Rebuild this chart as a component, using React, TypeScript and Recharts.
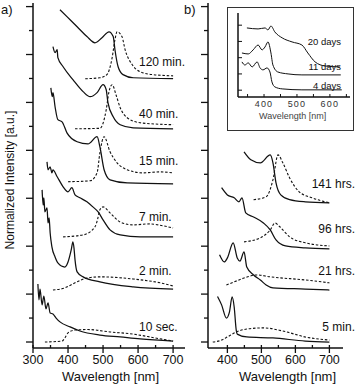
import React from "react";
import { LineChart, Line, XAxis, YAxis } from "recharts";

type P = [number, number];

// panel a) wavelength (nm) vs stacked normalized intensity, solid = absorption, dashed = emission
const A_10SEC_ABS: P[] = [[314, 2.42], [317, 1.76], [320, 2.21], [326, 1.55], [331, 1.92], [337, 1.38], [343, 1.63], [349, 1.21], [357, 1.17], [366, 1.0], [377, 0.84], [406, 0.63], [434, 0.46], [491, 0.29], [549, 0.21], [606, 0.13], [700, 0.04]];
const A_10SEC_EM: P[] = [[334, 0], [383, 0.04], [391, 0.17], [400, 0.38], [420, 0.5], [457, 0.52], [520, 0.42], [586, 0.33], [649, 0.17], [700, 0.04]];
const A_2MIN_ABS: P[] = [[326, 6.35], [329, 5.72], [331, 6.02], [334, 5.43], [340, 5.6], [343, 4.97], [346, 5.18], [349, 4.55], [354, 3.97], [363, 3.55], [371, 3.3], [391, 3.13], [400, 3.34], [409, 3.84], [414, 4.18], [417, 3.93], [420, 3.43], [426, 2.93], [443, 2.72], [491, 2.51], [586, 2.3], [700, 2.21]];
const A_2MIN_EM: P[] = [[357, 2.17], [391, 2.26], [420, 2.47], [454, 2.67], [491, 2.72], [586, 2.63], [663, 2.47], [700, 2.34]];
const A_7MIN_ABS: P[] = [[340, 7.52], [343, 7.19], [349, 7.31], [354, 7.06], [357, 7.19], [369, 6.9], [386, 6.48], [400, 6.27], [411, 6.44], [420, 6.14], [434, 6.02], [454, 5.85], [471, 5.64], [486, 5.43], [500, 5.1], [520, 4.68], [549, 4.47], [606, 4.39], [700, 4.39]];
const A_7MIN_EM: P[] = [[386, 4.39], [443, 4.47], [477, 4.81], [484, 5.1], [491, 5.52], [500, 5.64], [520, 5.39], [549, 5.01], [586, 4.89], [634, 4.93], [671, 4.85], [700, 4.76]];
const A_15MIN_ABS: P[] = [[351, 10.61], [355, 10.24], [357, 10.41], [363, 9.82], [371, 9.28], [383, 9.19], [397, 8.73], [426, 8.36], [457, 8.27], [483, 8.57], [491, 8.15], [503, 7.19], [520, 6.77], [569, 6.64], [700, 6.6]];
const A_15MIN_EM: P[] = [[400, 6.69], [463, 6.73], [483, 7.06], [491, 7.9], [503, 8.57], [520, 7.94], [540, 7.48], [569, 7.19], [614, 7.06], [663, 7.1], [700, 7.06]];
const A_40MIN_ABS: P[] = [[357, 12.33], [363, 12.08], [369, 12.2], [371, 11.87], [386, 11.49], [414, 10.95], [443, 10.45], [463, 10.24], [483, 10.41], [500, 10.74], [509, 10.53], [514, 9.99], [529, 9.4], [549, 9.07], [586, 8.94], [700, 8.9]];
const A_40MIN_EM: P[] = [[420, 8.9], [491, 8.92], [509, 9.69], [517, 10.45], [526, 10.74], [537, 10.32], [549, 9.78], [569, 9.36], [606, 9.15], [700, 9.07]];
const A_120MIN_ABS: P[] = [[377, 13.87], [397, 13.58], [426, 13.16], [454, 12.75], [477, 12.49], [497, 12.7], [517, 12.95], [529, 12.75], [534, 12.2], [543, 11.49], [557, 11.16], [586, 11.03], [700, 10.99]];
const A_120MIN_EM: P[] = [[449, 10.99], [491, 11.03], [511, 11.16], [526, 11.87], [534, 12.62], [540, 12.95], [554, 12.75], [563, 12.2], [583, 11.58], [606, 11.28], [643, 11.16], [700, 11.11]];

// panel b)
const B_5MIN_ABS: P[] = [[371, 1.9], [383, 1.55], [397, 1.0], [406, 1.25], [414, 1.88], [420, 1.46], [426, 0.5], [429, 0.33], [457, 0.21], [534, 0.17], [629, 0.04], [700, 0]];
const B_5MIN_EM: P[] = [[357, 0], [383, 0.08], [400, 0.21], [426, 0.42], [457, 0.54], [506, 0.59], [563, 0.46], [629, 0.21], [700, 0.08]];
const B_21H_ABS: P[] = [[377, 3.64], [391, 3.34], [400, 3.51], [417, 4.14], [429, 3.51], [437, 3.38], [449, 3.76], [457, 3.13], [477, 2.8], [497, 2.59], [514, 2.38], [534, 2.26], [629, 2.21], [700, 2.17]];
const B_21H_EM: P[] = [[397, 2.38], [420, 2.51], [449, 2.67], [486, 2.8], [526, 2.72], [629, 2.59], [700, 2.47]];
const B_96H_ABS: P[] = [[383, 6.44], [400, 6.14], [420, 6.02], [434, 5.85], [443, 6.02], [454, 5.39], [477, 5.22], [506, 4.97], [526, 4.68], [543, 4.26], [571, 4.01], [629, 3.93], [700, 3.89]];
const B_96H_EM: P[] = [[449, 4.18], [497, 4.35], [526, 4.68], [540, 4.97], [554, 4.81], [583, 4.39], [629, 4.14], [700, 4.01]];
const B_141H_ABS: P[] = [[449, 7.94], [469, 7.61], [497, 7.48], [526, 7.81], [534, 7.48], [543, 6.64], [557, 6.14], [583, 5.94], [629, 5.85], [700, 5.81]];
const B_141H_EM: P[] = [[477, 5.94], [514, 6.06], [534, 6.77], [549, 7.81], [563, 7.48], [583, 6.85], [611, 6.27], [649, 6.02], [700, 5.81]];

// inset
const I_20D: P[] = [[348, 4.83], [382, 4.77], [403, 4.83], [412, 4.71], [421, 4.95], [433, 4.58], [455, 4.22], [485, 3.97], [515, 3.78], [533, 3.29], [555, 2.74], [585, 2.49], [630, 2.43]];
const I_11D: P[] = [[333, 3.29], [352, 3.23], [367, 3.48], [382, 3.78], [394, 3.48], [403, 3.66], [412, 3.97], [421, 3.29], [427, 2.55], [442, 2.12], [473, 2.0], [515, 1.94], [633, 1.94]];
const I_4D: P[] = [[333, 2.74], [342, 2.55], [352, 2.68], [364, 2.43], [379, 2.74], [388, 2.37], [397, 2.25], [409, 2.37], [418, 2.12], [424, 1.51], [433, 1.2], [455, 1.08], [515, 1.02], [636, 1.02]];

const A_TICKS_X = [300, 350, 400, 450, 500, 550, 600, 650, 700];
const B_TICKS_X = [400, 450, 500, 550, 600, 650, 700];
const INSET_TICKS_X = [350, 400, 450, 500, 550, 600, 650];
const TICKS_Y = [0, 1, 2, 3, 4, 5, 6, 7, 8, 9, 10, 11, 12, 13, 14];
const INSET_TICKS_Y = [1, 2, 3, 4, 5];

const A_LABELS = [
  { text: "120 min.", y: 63 },
  { text: "40 min.", y: 115 },
  { text: "15 min.", y: 162 },
  { text: "7 min.", y: 218 },
  { text: "2 min.", y: 272 },
  { text: "10 sec.", y: 328 },
];
const B_LABELS = [
  { text: "141 hrs.", y: 185 },
  { text: "96 hrs.", y: 230 },
  { text: "21 hrs.", y: 272 },
  { text: "5 min.", y: 328 },
];
const INSET_LABELS = [
  { text: "20 days", y: 42 },
  { text: "11 days", y: 67 },
  { text: "4 days", y: 86 },
];

const FONT = '"Liberation Sans", Arial, Helvetica, sans-serif';
const INK = "#111";

const toPts = (arr: P[]) => arr.map(([x, y]) => ({ x, y }));

const mainXTick = ({ x, y, payload }: any) => {
  const major = payload.value % 100 === 0;
  return (
    <g>
      <line x1={x} x2={x} y1={y - 3} y2={major ? y + 5 : y} stroke={INK} strokeWidth={1.3} />
      {major && (
        <text x={x} y={y + 16} textAnchor="middle" fontSize={12.5} fill={INK} fontFamily={FONT}>
          {payload.value}
        </text>
      )}
    </g>
  );
};

const mainYTick = ({ x, y, payload }: any) => {
  const len = payload.value % 2 === 0 ? 7 : 4;
  return <line x1={x - len} x2={x} y1={y} y2={y} stroke={INK} strokeWidth={1.3} />;
};

const insetXTick = ({ x, y, payload }: any) => {
  const major = payload.value % 100 === 0;
  return (
    <g>
      <line x1={x} x2={x} y1={y - 3} y2={y} stroke={INK} strokeWidth={1} />
      {major && (
        <text x={x} y={y + 10} textAnchor="middle" fontSize={9} letterSpacing={1.2} fill="#333" fontFamily={FONT}>
          {payload.value}
        </text>
      )}
    </g>
  );
};

const insetYTick = ({ x, y }: any) => (
  <line x1={x} x2={x + 4} y1={y} y2={y} stroke={INK} strokeWidth={1} />
);

type Series = { data: P[]; dash?: boolean };

const A_SERIES: Series[] = [
  { data: A_10SEC_ABS }, { data: A_10SEC_EM, dash: true },
  { data: A_2MIN_ABS }, { data: A_2MIN_EM, dash: true },
  { data: A_7MIN_ABS }, { data: A_7MIN_EM, dash: true },
  { data: A_15MIN_ABS }, { data: A_15MIN_EM, dash: true },
  { data: A_40MIN_ABS }, { data: A_40MIN_EM, dash: true },
  { data: A_120MIN_ABS }, { data: A_120MIN_EM, dash: true },
];
const B_SERIES: Series[] = [
  { data: B_5MIN_ABS }, { data: B_5MIN_EM, dash: true },
  { data: B_21H_ABS }, { data: B_21H_EM, dash: true },
  { data: B_96H_ABS }, { data: B_96H_EM, dash: true },
  { data: B_141H_ABS }, { data: B_141H_EM, dash: true },
];
const INSET_SERIES: Series[] = [{ data: I_20D }, { data: I_11D }, { data: I_4D }];

const renderLines = (series: Series[], width: number) =>
  series.map((s, i) => (
    <Line
      key={i}
      data={toPts(s.data)}
      dataKey="y"
      type="monotone"
      stroke={INK}
      strokeWidth={s.dash ? 1.1 : width}
      strokeDasharray={s.dash ? "2.5 1.8" : undefined}
      dot={false}
      activeDot={false}
      isAnimationActive={false}
    />
  ));

const Panel = ({ left, width, marginLeft, marginRight, domain, ticks, series }: any) => (
  <div style={{ position: "absolute", left, top: 0 }}>
    <LineChart width={width} height={387} margin={{ top: 3, right: marginRight, left: marginLeft, bottom: 0 }}>
      <XAxis
        dataKey="x"
        type="number"
        domain={domain}
        ticks={ticks}
        allowDataOverflow
        interval={0}
        height={39}
        tickSize={0}
        tickMargin={0}
        tickLine={false}
        axisLine={{ stroke: INK, strokeWidth: 1.5 }}
        tick={mainXTick}
      />
      <YAxis
        type="number"
        domain={[-0.25, 14.15]}
        ticks={TICKS_Y}
        allowDataOverflow
        interval={0}
        width={1}
        tickSize={0}
        tickMargin={0}
        tickLine={false}
        axisLine={{ stroke: INK, strokeWidth: 1.5 }}
        tick={mainYTick}
      />
      {renderLines(series, 1.25)}
    </LineChart>
  </div>
);

const Txt = ({ x, y, size, children, anchor = "start", color = INK }: any) => (
  <div
    style={{
      position: "absolute",
      top: y - size * 0.65,
      left: anchor === "start" ? x : undefined,
      right: anchor === "end" ? 356 - x : undefined,
      fontSize: size,
      lineHeight: `${size * 1.2}px`,
      fontFamily: FONT,
      color,
      whiteSpace: "nowrap",
    }}
  >
    {children}
  </div>
);

export default function App() {
  return (
    <div style={{ position: "absolute", left: 0, top: 0, width: 356, height: 387, background: "#fff", overflow: "hidden" }}>
      <Panel left={0} width={190} marginLeft={32} marginRight={5} domain={[300, 734]} ticks={A_TICKS_X} series={A_SERIES} />
      <Panel left={175} width={181} marginLeft={32} marginRight={13} domain={[343, 740]} ticks={B_TICKS_X} series={B_SERIES} />

      {/* inset */}
      <div style={{ position: "absolute", left: 227, top: 7, width: 127, height: 124, border: "1px solid #333", boxSizing: "border-box", background: "#fff" }} />
      <div style={{ position: "absolute", left: 228, top: 8 }}>
        <LineChart width={125} height={122} margin={{ top: 5, right: 3, left: 9, bottom: 0 }}>
          <XAxis
            dataKey="x"
            type="number"
            domain={[321, 661]}
            ticks={INSET_TICKS_X}
            allowDataOverflow
            interval={0}
            height={33}
            tickSize={0}
            tickMargin={0}
            tickLine={false}
            axisLine={{ stroke: INK, strokeWidth: 1.5 }}
            tick={insetXTick}
          />
          <YAxis
            type="number"
            domain={[0.58, 5.75]}
            ticks={INSET_TICKS_Y}
            allowDataOverflow
            interval={0}
            width={1}
            tickSize={0}
            tickMargin={0}
            tickLine={false}
            axisLine={{ stroke: INK, strokeWidth: 1.5 }}
            tick={insetYTick}
          />
          {renderLines(INSET_SERIES, 1.0)}
        </LineChart>
      </div>
      <div style={{ position: "absolute", left: 259, top: 111, fontSize: 9, fontFamily: FONT, color: "#444", whiteSpace: "nowrap" }}>Wavelength [nm]</div>
      {INSET_LABELS.map((l) => (
        <Txt key={l.text} x={341} y={l.y} size={9.5} anchor="end">{l.text}</Txt>
      ))}

      {A_LABELS.map((l) => (
        <Txt key={l.text} x={139} y={l.y} size={12}>{l.text}</Txt>
      ))}
      {B_LABELS.map((l) => (
        <Txt key={l.text} x={355} y={l.y} size={12} anchor="end">{l.text}</Txt>
      ))}

      <Txt x={1} y={10} size={13}>a)</Txt>
      <Txt x={184} y={10} size={13}>b)</Txt>

      <div style={{ position: "absolute", left: 62, top: 369, fontSize: 13, fontFamily: FONT, color: INK, whiteSpace: "nowrap" }}>Wavelength [nm]</div>
      <div style={{ position: "absolute", left: 239, top: 369, fontSize: 13, fontFamily: FONT, color: INK, whiteSpace: "nowrap" }}>Wavelength [nm]</div>

      <div
        style={{
          position: "absolute",
          left: 10 - 90,
          top: 180 - 8,
          width: 180,
          height: 16,
          lineHeight: "16px",
          textAlign: "center",
          fontSize: 12,
          fontFamily: FONT,
          color: INK,
          transform: "rotate(-90deg)",
          whiteSpace: "nowrap",
        }}
      >
        Normalized Intensity [a.u.]
      </div>
    </div>
  );
}
